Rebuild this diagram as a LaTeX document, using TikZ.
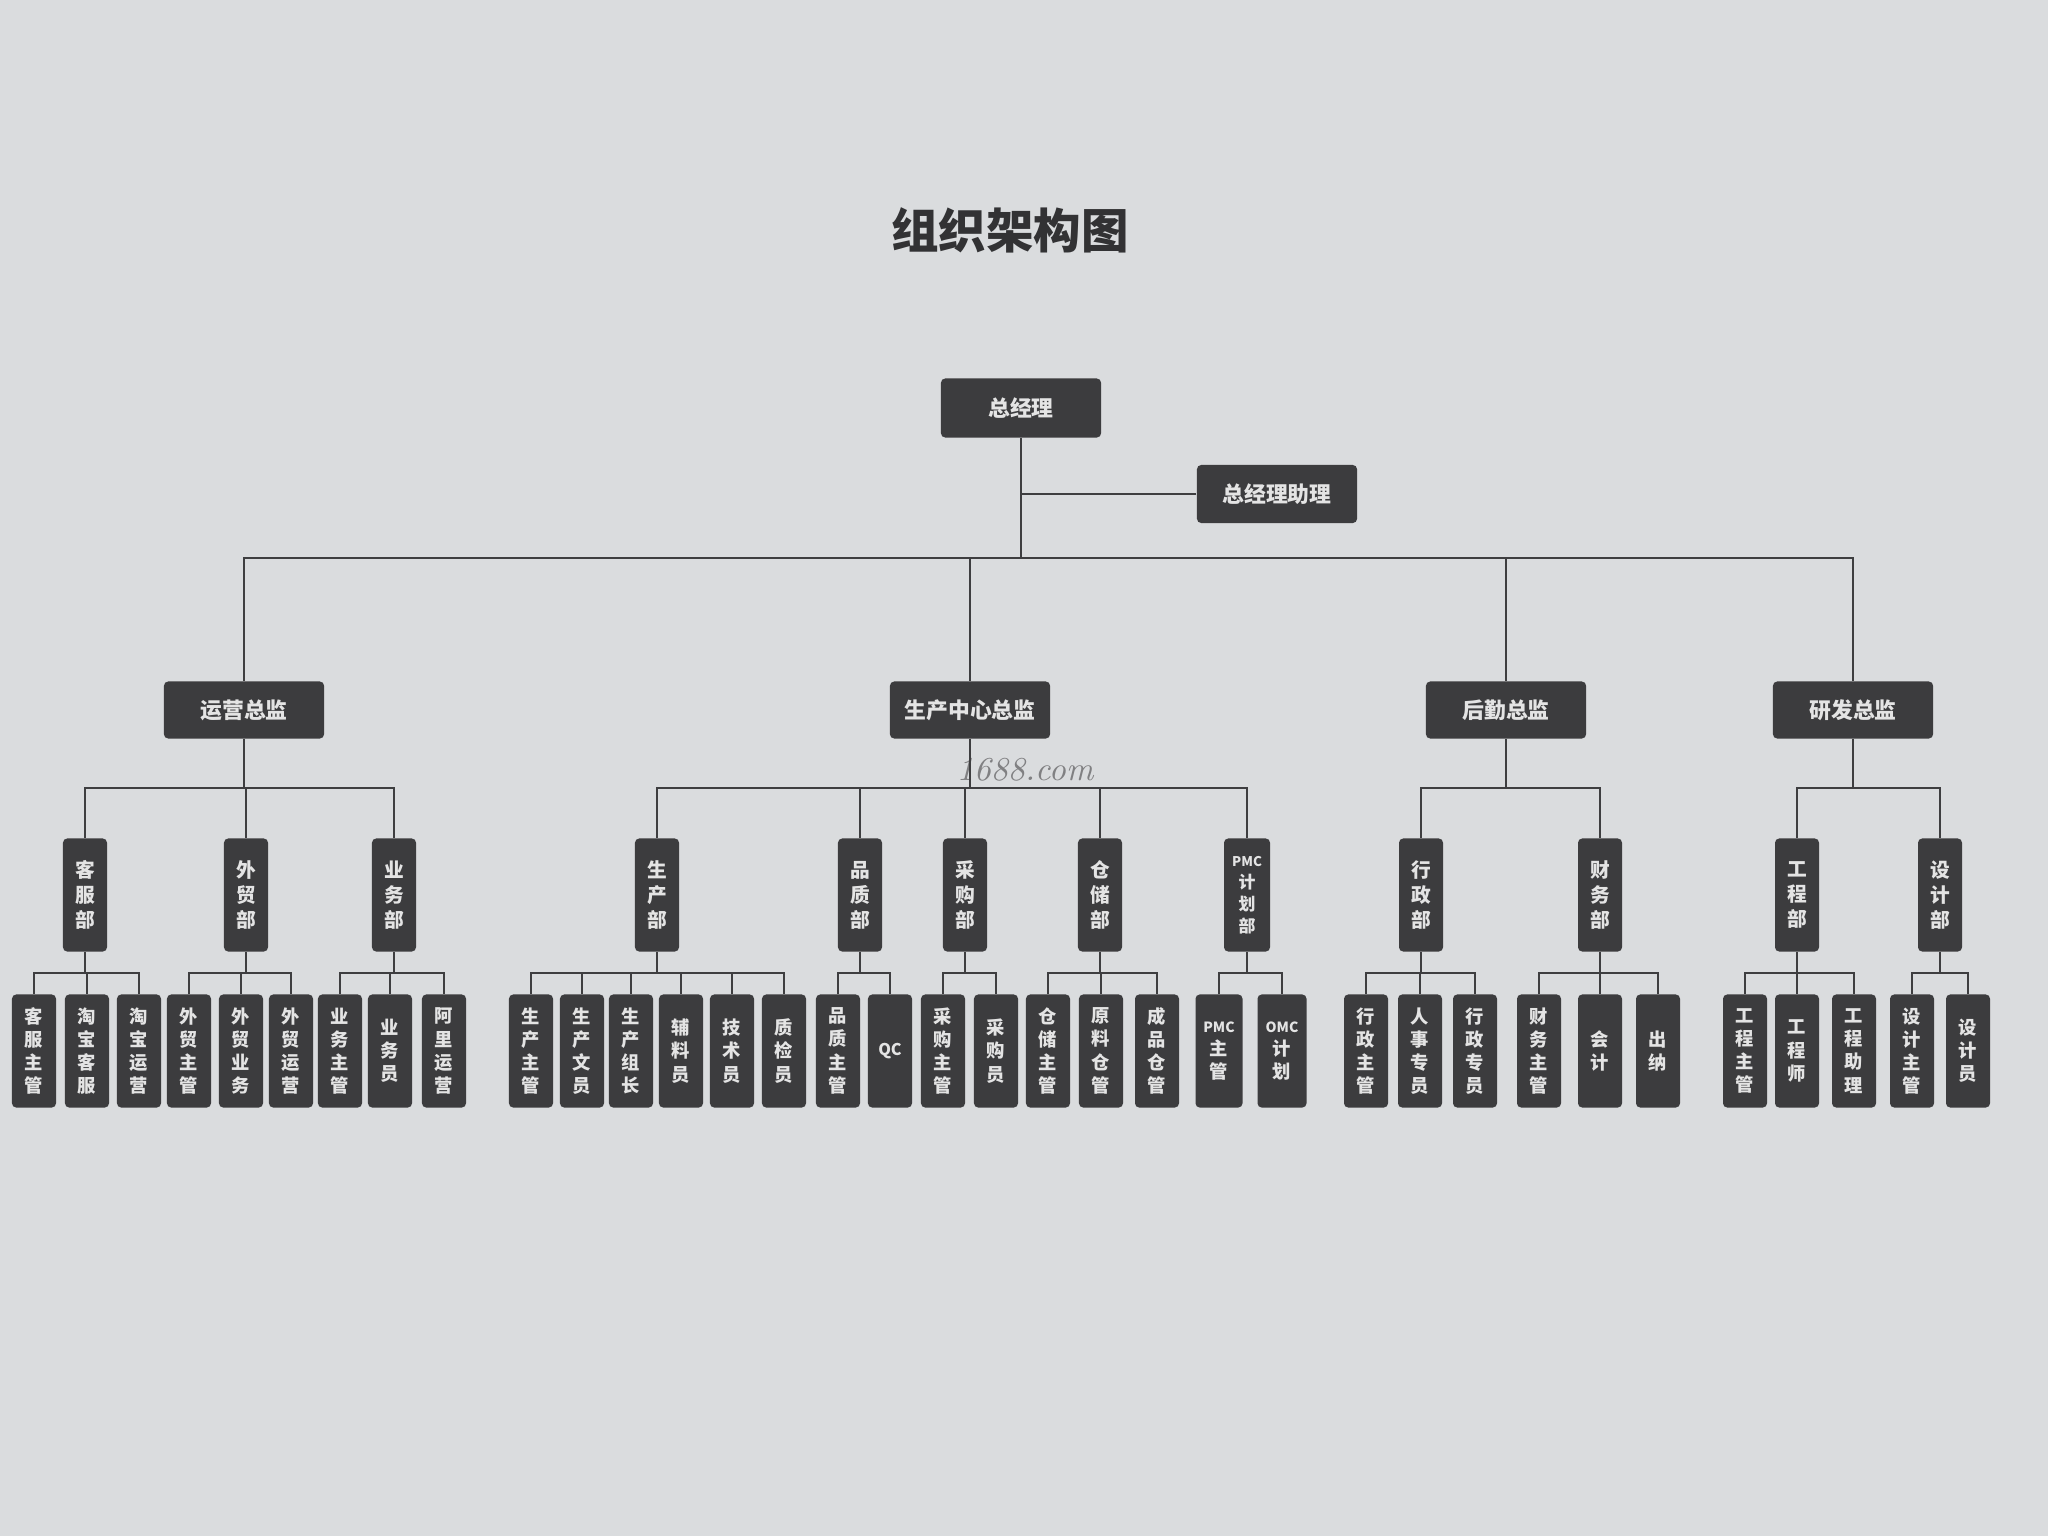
\documentclass[tikz,border=0pt]{standalone}
\usepackage{fontspec}
\usepackage{xcolor}
\usepackage{tikz}
\newfontfamily\cjk{Noto Sans CJK SC}
\definecolor{PaperGray}{RGB}{218,220,222}
\definecolor{BoxDark}{RGB}{60,60,62}
\definecolor{BoxText}{RGB}{228,228,228}
\definecolor{LineDark}{RGB}{62,62,64}
\definecolor{TitleDark}{RGB}{50,50,52}
\definecolor{MarkGray}{RGB}{128,128,130}

\begin{document}
\begin{tikzpicture}[x=0.01cm, y=-0.01cm,
    head/.style={fill=BoxDark, text=BoxText, rounded corners=1.2pt,
      minimum width=1.6cm, minimum height=0.57cm, inner sep=0pt,
      font=\cjk\bfseries\fontsize{6.2}{7}\selectfont},
    dept/.style={fill=BoxDark, text=BoxText, rounded corners=1.2pt,
      minimum width=0.44cm, minimum height=1.13cm, inner sep=0pt, align=center,
      font=\cjk\bfseries\fontsize{5.6}{7.1}\selectfont},
    leaf/.style={dept, font=\cjk\bfseries\fontsize{5.2}{6.6}\selectfont},
    conn/.style={draw=LineDark, line width=0.6pt}
  ]
    \fill[PaperGray] (0,0) rectangle (2048,1536);
    \useasboundingbox (0,0) rectangle (2048,1536);

    \node[font=\cjk\bfseries\fontsize{13.5}{15}\selectfont, text=TitleDark] (title) at (1010,230) {组织架构图};
    \node[font=\itshape\fontsize{9.5}{10}\selectfont, text=MarkGray] (mark) at (1025,770) {1688.com};

    \coordinate (bus1) at (0,558);
    \coordinate (bus2) at (0,788);
    \coordinate (bus3) at (0,973);

    \node[head, minimum height=0.59cm] (gm) at (1021,408) {总经理};
    \node[head, minimum height=0.58cm] (asst) at (1277,494) {总经理助理};
    \node[head] (ops) at (244,710) {运营总监};
    \node[head] (prod) at (970,710) {生产中心总监};
    \node[head] (logi) at (1506,710) {后勤总监};
    \node[head] (rnd) at (1853,710) {研发总监};

    \node[dept] (kefu) at (85,895) {客\\服\\部};
    \node[dept] (waimao) at (246,895) {外\\贸\\部};
    \node[dept] (yewu) at (394,895) {业\\务\\部};
    \node[dept] (shengchan) at (657,895) {生\\产\\部};
    \node[dept] (pinzhi) at (860,895) {品\\质\\部};
    \node[dept] (caigou) at (965,895) {采\\购\\部};
    \node[dept] (cangchu) at (1100,895) {仓\\储\\部};
    \node[dept, minimum width=0.46cm, font=\cjk\bfseries\fontsize{4.8}{6.3}\selectfont] (pmc) at (1247,895) {{\fontsize{3.8}{5}\selectfont PMC}\\计\\划\\部};
    \node[dept] (xingzheng) at (1421,895) {行\\政\\部};
    \node[dept] (caiwu) at (1600,895) {财\\务\\部};
    \node[dept] (gongcheng) at (1797,895) {工\\程\\部};
    \node[dept] (sheji) at (1940,895) {设\\计\\部};

    \node[leaf] (kfzg) at (34,1051) {客\\服\\主\\管};
    \node[leaf] (tbkf) at (87,1051) {淘\\宝\\客\\服};
    \node[leaf] (tbyy) at (139,1051) {淘\\宝\\运\\营};
    \node[leaf] (wmzg) at (189,1051) {外\\贸\\主\\管};
    \node[leaf] (wmyw) at (241,1051) {外\\贸\\业\\务};
    \node[leaf] (wmyy) at (291,1051) {外\\贸\\运\\营};
    \node[leaf] (ywzg) at (340,1051) {业\\务\\主\\管};
    \node[leaf] (ywy) at (390,1051) {业\\务\\员};
    \node[leaf] (alyy) at (444,1051) {阿\\里\\运\\营};
    \node[leaf] (sczg) at (531,1051) {生\\产\\主\\管};
    \node[leaf] (scwy) at (582,1051) {生\\产\\文\\员};
    \node[leaf] (sczz) at (631,1051) {生\\产\\组\\长};
    \node[leaf] (fly) at (681,1051) {辅\\料\\员};
    \node[leaf] (jsy) at (732,1051) {技\\术\\员};
    \node[leaf] (zjy) at (784,1051) {质\\检\\员};
    \node[leaf] (pzzg) at (838,1051) {品\\质\\主\\管};
    \node[leaf, font=\cjk\bfseries\fontsize{4.6}{6}\selectfont] (qc) at (890,1051) {QC};
    \node[leaf] (cgzg) at (943,1051) {采\\购\\主\\管};
    \node[leaf] (cgy) at (996,1051) {采\\购\\员};
    \node[leaf] (cczg) at (1048,1051) {仓\\储\\主\\管};
    \node[leaf] (ylcg) at (1101,1051) {原\\料\\仓\\管};
    \node[leaf] (cpcg) at (1157,1051) {成\\品\\仓\\管};
    \node[leaf, minimum width=0.47cm] (pmczg) at (1219,1051) {{\fontsize{4}{5}\selectfont PMC}\\主\\管};
    \node[leaf, minimum width=0.49cm] (omcjh) at (1282,1051) {{\fontsize{4}{5}\selectfont OMC}\\计\\划};
    \node[leaf] (xzzg) at (1366,1051) {行\\政\\主\\管};
    \node[leaf] (rszy) at (1420,1051) {人\\事\\专\\员};
    \node[leaf] (xzzy) at (1475,1051) {行\\政\\专\\员};
    \node[leaf] (cwzg) at (1539,1051) {财\\务\\主\\管};
    \node[leaf] (kuaiji) at (1600,1051) {会\\计};
    \node[leaf] (chuna) at (1658,1051) {出\\纳};
    \node[leaf] (gczg) at (1745,1051) {工\\程\\主\\管};
    \node[leaf] (gcs) at (1797,1051) {工\\程\\师};
    \node[leaf] (gczl) at (1854,1051) {工\\程\\助\\理};
    \node[leaf] (sjzg) at (1912,1051) {设\\计\\主\\管};
    \node[leaf] (sjy) at (1968,1051) {设\\计\\员};

    \draw[conn] (asst.west) -- (asst.west -| gm.south);
    \draw[conn] (gm.south) |- (ops.north |- bus1) -- (ops.north);
    \draw[conn] (gm.south) |- (prod.north |- bus1) -- (prod.north);
    \draw[conn] (gm.south) |- (logi.north |- bus1) -- (logi.north);
    \draw[conn] (gm.south) |- (rnd.north |- bus1) -- (rnd.north);

    \draw[conn] (ops.south) |- (kefu.north |- bus2) -- (kefu.north);
    \draw[conn] (ops.south) |- (waimao.north |- bus2) -- (waimao.north);
    \draw[conn] (ops.south) |- (yewu.north |- bus2) -- (yewu.north);
    \draw[conn] (prod.south) |- (shengchan.north |- bus2) -- (shengchan.north);
    \draw[conn] (prod.south) |- (pinzhi.north |- bus2) -- (pinzhi.north);
    \draw[conn] (prod.south) |- (caigou.north |- bus2) -- (caigou.north);
    \draw[conn] (prod.south) |- (cangchu.north |- bus2) -- (cangchu.north);
    \draw[conn] (prod.south) |- (pmc.north |- bus2) -- (pmc.north);
    \draw[conn] (logi.south) |- (xingzheng.north |- bus2) -- (xingzheng.north);
    \draw[conn] (logi.south) |- (caiwu.north |- bus2) -- (caiwu.north);
    \draw[conn] (rnd.south) |- (gongcheng.north |- bus2) -- (gongcheng.north);
    \draw[conn] (rnd.south) |- (sheji.north |- bus2) -- (sheji.north);

    \draw[conn] (kefu.south) |- (kfzg.north |- bus3) -- (kfzg.north);
    \draw[conn] (kefu.south) |- (tbkf.north |- bus3) -- (tbkf.north);
    \draw[conn] (kefu.south) |- (tbyy.north |- bus3) -- (tbyy.north);
    \draw[conn] (waimao.south) |- (wmzg.north |- bus3) -- (wmzg.north);
    \draw[conn] (waimao.south) |- (wmyw.north |- bus3) -- (wmyw.north);
    \draw[conn] (waimao.south) |- (wmyy.north |- bus3) -- (wmyy.north);
    \draw[conn] (yewu.south) |- (ywzg.north |- bus3) -- (ywzg.north);
    \draw[conn] (yewu.south) |- (ywy.north |- bus3) -- (ywy.north);
    \draw[conn] (yewu.south) |- (alyy.north |- bus3) -- (alyy.north);
    \draw[conn] (shengchan.south) |- (sczg.north |- bus3) -- (sczg.north);
    \draw[conn] (shengchan.south) |- (scwy.north |- bus3) -- (scwy.north);
    \draw[conn] (shengchan.south) |- (sczz.north |- bus3) -- (sczz.north);
    \draw[conn] (shengchan.south) |- (fly.north |- bus3) -- (fly.north);
    \draw[conn] (shengchan.south) |- (jsy.north |- bus3) -- (jsy.north);
    \draw[conn] (shengchan.south) |- (zjy.north |- bus3) -- (zjy.north);
    \draw[conn] (pinzhi.south) |- (pzzg.north |- bus3) -- (pzzg.north);
    \draw[conn] (pinzhi.south) |- (qc.north |- bus3) -- (qc.north);
    \draw[conn] (caigou.south) |- (cgzg.north |- bus3) -- (cgzg.north);
    \draw[conn] (caigou.south) |- (cgy.north |- bus3) -- (cgy.north);
    \draw[conn] (cangchu.south) |- (cczg.north |- bus3) -- (cczg.north);
    \draw[conn] (cangchu.south) |- (ylcg.north |- bus3) -- (ylcg.north);
    \draw[conn] (cangchu.south) |- (cpcg.north |- bus3) -- (cpcg.north);
    \draw[conn] (pmc.south) |- (pmczg.north |- bus3) -- (pmczg.north);
    \draw[conn] (pmc.south) |- (omcjh.north |- bus3) -- (omcjh.north);
    \draw[conn] (xingzheng.south) |- (xzzg.north |- bus3) -- (xzzg.north);
    \draw[conn] (xingzheng.south) |- (rszy.north |- bus3) -- (rszy.north);
    \draw[conn] (xingzheng.south) |- (xzzy.north |- bus3) -- (xzzy.north);
    \draw[conn] (caiwu.south) |- (cwzg.north |- bus3) -- (cwzg.north);
    \draw[conn] (caiwu.south) |- (kuaiji.north |- bus3) -- (kuaiji.north);
    \draw[conn] (caiwu.south) |- (chuna.north |- bus3) -- (chuna.north);
    \draw[conn] (gongcheng.south) |- (gczg.north |- bus3) -- (gczg.north);
    \draw[conn] (gongcheng.south) |- (gcs.north |- bus3) -- (gcs.north);
    \draw[conn] (gongcheng.south) |- (gczl.north |- bus3) -- (gczl.north);
    \draw[conn] (sheji.south) |- (sjzg.north |- bus3) -- (sjzg.north);
    \draw[conn] (sheji.south) |- (sjy.north |- bus3) -- (sjy.north);
  \end{tikzpicture}
\end{document}
